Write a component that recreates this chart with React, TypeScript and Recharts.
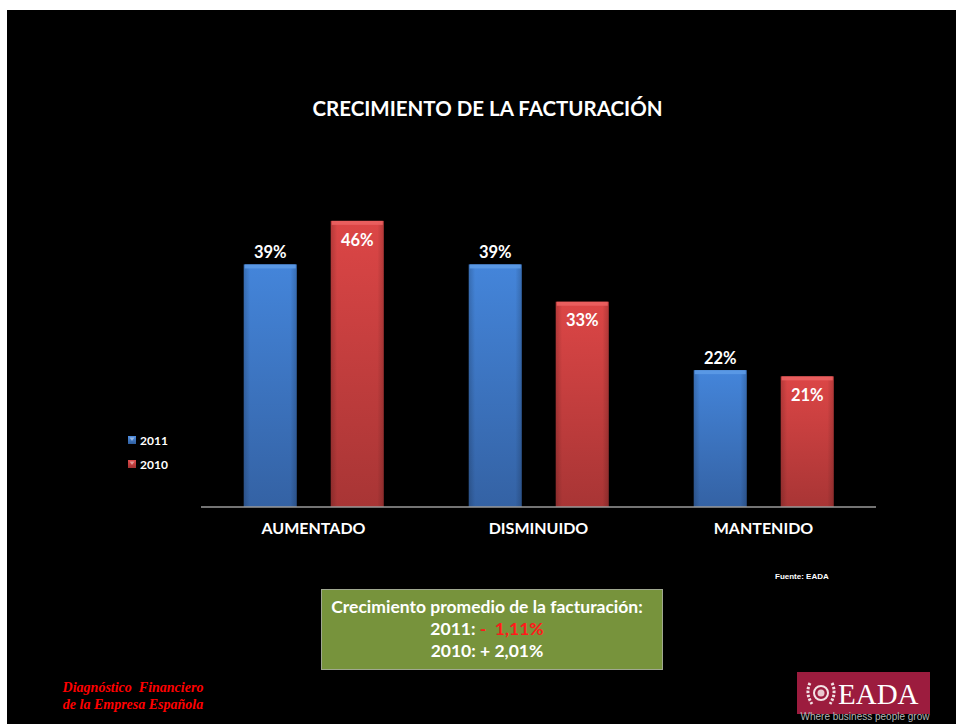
import { BarChart, Bar, XAxis, YAxis, LabelList } from 'recharts';

const categories = ['AUMENTADO', 'DISMINUIDO', 'MANTENIDO'];
const values2011 = [39, 39, 22];
const values2010 = [46, 33, 21];
const seriesNames = ['2011', '2010'];

const chartData = categories.map((name, i) => ({
  name,
  y2011: values2011[i],
  y2010: values2010[i],
}));

const FONT = 'Lato, "Liberation Sans", sans-serif';

// bar with a little bevelled top, like the office 3D look
const BevelBar = (props: any) => {
  const { x, y, width, height, gradId, capColor } = props;
  if (!height || height <= 0) return null;
  return (
    <g>
      <rect x={x} y={y} width={width} height={height} fill={`url(#${gradId})`} />
      <rect x={x} y={y} width={width} height={height} fill="url(#sideShade)" />
      <rect x={x + 1} y={y} width={width - 2} height={4} fill={capColor} opacity={0.9} />
    </g>
  );
};

// legend drawn as html so it does not eat into the plot area
const SeriesLegend = () => {
  const items = [
    { label: seriesNames[0], grad: 'legBlue' },
    { label: seriesNames[1], grad: 'legRed' },
  ];
  return (
    <div
      style={{
        position: 'absolute',
        left: 121,
        top: 418,
        fontFamily: FONT,
        fontWeight: 700,
        fontSize: 12,
        color: '#fff',
      }}
    >
      {items.map((it) => (
        <div key={it.label} style={{ display: 'flex', alignItems: 'center', height: 24 }}>
          <svg width={8} height={8} style={{ marginRight: 4 }}>
            <rect x={0} y={0} width={8} height={8} fill={`url(#${it.grad})`} />
            <path d="M1.5 1.5 L6.5 1.5 L4 5 Z" fill="rgba(255,255,255,0.45)" />
          </svg>
          <span>{it.label}</span>
        </div>
      ))}
    </div>
  );
};

export default function App() {
  return (
    <div
      style={{
        position: 'absolute',
        left: 7,
        top: 10,
        width: 949,
        height: 714,
        background: '#000',
        overflow: 'hidden',
        fontFamily: FONT,
      }}
    >
      <div
        style={{
          position: 'absolute',
          top: 86,
          width: 949,
          left: 6,
          textAlign: 'center',
          color: '#fff',
          fontWeight: 700,
          fontSize: 20.5,
        }}
      >
        CRECIMIENTO DE LA FACTURACIÓN
      </div>

      <svg width={0} height={0} style={{ position: 'absolute' }}>
        <defs>
          <linearGradient id="legBlue" x1="0" y1="0" x2="0" y2="1">
            <stop offset="0%" stopColor="#4f8ee0" />
            <stop offset="100%" stopColor="#2f5e9e" />
          </linearGradient>
          <linearGradient id="legRed" x1="0" y1="0" x2="0" y2="1">
            <stop offset="0%" stopColor="#e04b4b" />
            <stop offset="100%" stopColor="#a33232" />
          </linearGradient>
        </defs>
      </svg>

      <div style={{ position: 'absolute', left: 0, top: 0 }}>
        <BarChart
          width={949}
          height={714}
          data={chartData}
          margin={{ top: 186, left: 194, right: 80, bottom: 187 }}
          barCategoryGap="19%"
          barGap={34}
        >
          <defs>
            <linearGradient id="gBlue" x1="0" y1="0" x2="0" y2="1">
              <stop offset="0%" stopColor="#4485da" />
              <stop offset="100%" stopColor="#3462a4" />
            </linearGradient>
            <linearGradient id="gRed" x1="0" y1="0" x2="0" y2="1">
              <stop offset="0%" stopColor="#dc4646" />
              <stop offset="100%" stopColor="#a83535" />
            </linearGradient>
            <linearGradient id="sideShade" x1="0" y1="0" x2="1" y2="0">
              <stop offset="0%" stopColor="#000" stopOpacity={0.18} />
              <stop offset="12%" stopColor="#000" stopOpacity={0} />
              <stop offset="88%" stopColor="#000" stopOpacity={0} />
              <stop offset="100%" stopColor="#000" stopOpacity={0.18} />
            </linearGradient>
          </defs>
          <XAxis
            dataKey="name"
            tickLine={false}
            tickSize={0}
            tickMargin={16}
            axisLine={{ stroke: '#9a9a9a', strokeWidth: 1.5 }}
            tick={{ fill: '#fff', fontSize: 16, fontWeight: 700, fontFamily: FONT }}
          />
          <YAxis hide domain={[0, 50]} />
          <Bar
            dataKey="y2011"
            name={seriesNames[0]}
            isAnimationActive={false}
            shape={(p: any) => <BevelBar {...p} gradId="gBlue" capColor="#5c9ae6" />}
          >
            <LabelList
              dataKey="y2011"
              position="top"
              offset={6}
              formatter={(v: any) => `${v}%`}
              style={{ fill: '#fff', fontSize: 16.5, fontWeight: 700, fontFamily: FONT }}
            />
          </Bar>
          <Bar
            dataKey="y2010"
            name={seriesNames[1]}
            isAnimationActive={false}
            shape={(p: any) => <BevelBar {...p} gradId="gRed" capColor="#ea6060" />}
          >
            <LabelList
              dataKey="y2010"
              position="insideTop"
              offset={13}
              formatter={(v: any) => `${v}%`}
              style={{ fill: '#fff', fontSize: 16.5, fontWeight: 700, fontFamily: FONT }}
            />
          </Bar>
        </BarChart>
      </div>

      <SeriesLegend />

      <div
        style={{
          position: 'absolute',
          left: 768,
          top: 562,
          color: '#fff',
          fontSize: 8,
          fontWeight: 700,
          fontFamily: '"Liberation Sans", Arial, sans-serif',
        }}
      >
        Fuente: EADA
      </div>

      <div
        style={{
          position: 'absolute',
          left: 314,
          top: 579,
          width: 342,
          height: 81,
          background: '#77933c',
          border: '1px solid #a0a890',
          color: '#fff',
          fontWeight: 700,
          fontSize: 17.5,
          textAlign: 'center',
          lineHeight: '22px',
          paddingTop: 6,
          paddingRight: 10,
          boxSizing: 'border-box',
          whiteSpace: 'nowrap',
        }}
      >
        <div>Crecimiento promedio de la facturación:</div>
        <div>
          2011: <span style={{ color: '#ff1a1a' }}>-&nbsp; 1,11%</span>
        </div>
        <div>2010: + 2,01%</div>
      </div>

      <div
        style={{
          position: 'absolute',
          left: 26,
          top: 669,
          width: 200,
          textAlign: 'center',
          color: '#f00',
          fontFamily: '"Liberation Serif", "DejaVu Serif", serif',
          fontStyle: 'italic',
          fontWeight: 700,
          fontSize: 14,
          lineHeight: '17px',
        }}
      >
        <div>Diagnóstico&nbsp; Financiero</div>
        <div>de la Empresa Española</div>
      </div>

      <div
        style={{
          position: 'absolute',
          left: 790,
          top: 662,
          width: 133,
          height: 42,
          background: '#9c1c3e',
        }}
      >
        <svg width={133} height={42} style={{ position: 'absolute', left: 0, top: 0 }}>
          <circle cx={24} cy={21} r={7} fill="none" stroke="#f3e3e6" strokeWidth={2} />
          <circle cx={24} cy={21} r={3.5} fill="#e9c9d0" />
          <path d="M13 11 Q8 21 15 32" stroke="#f3e3e6" strokeWidth={3} fill="none" strokeDasharray="2.5 1.5" />
          <path d="M35 11 Q40 21 33 32" stroke="#f3e3e6" strokeWidth={3} fill="none" strokeDasharray="2.5 1.5" />
          <text
            x={41}
            y={32}
            fill="#fff"
            fontSize={29}
            fontFamily='"Liberation Serif", "DejaVu Serif", serif'
          >
            EADA
          </text>
        </svg>
      </div>
      <div
        style={{
          position: 'absolute',
          left: 792,
          top: 701,
          width: 132,
          textAlign: 'center',
          color: '#b8b8b8',
          fontSize: 10,
          lineHeight: '11px',
          whiteSpace: 'nowrap',
          fontFamily: '"Liberation Sans", Arial, sans-serif',
        }}
      >
        Where business people grow
      </div>
    </div>
  );
}
